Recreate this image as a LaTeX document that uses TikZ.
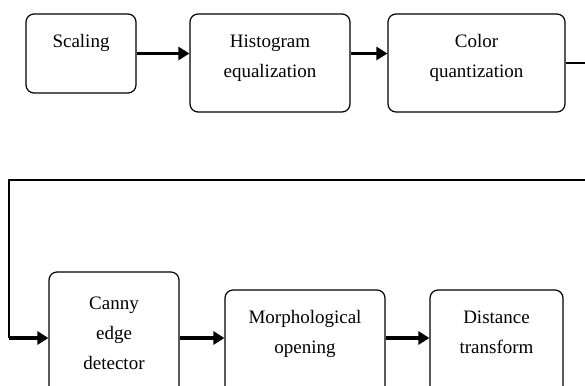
\documentclass[tikz,border=0pt]{standalone}
\usepackage{fontspec}
\setmainfont{Liberation Serif}
\usetikzlibrary{arrows.meta,positioning}

\begin{document}
\begin{tikzpicture}[
  x=1pt, y=1pt,
  stage/.style={draw, rounded corners=8pt, line width=1.2pt, inner sep=0pt},
  caption/.style={inner sep=0pt, align=center, font=\fontsize{19}{30}\selectfont},
  wire/.style={line width=1.2pt},
  flow/.style={line width=3.5pt, -{Triangle[length=11pt,width=13pt]}}
]
  \useasboundingbox (0,0) rectangle (585,-385);

  % top row
  \node[stage, minimum width=110pt, minimum height=79pt] (scaling) at (81,-53.5) {};
  \node[stage, minimum width=160pt, minimum height=98pt] (histeq) at (270,-63) {};
  \node[stage, minimum width=177pt, minimum height=98pt] (colorq) at (476.5,-63) {};

  \node[caption, below=21pt of scaling.north] (scaling-text) {Scaling};
  \node[caption, below=21pt of histeq.north] (histeq-text) {Histogram\\equalization};
  \node[caption, below=21pt of colorq.north] (colorq-text) {Color\\quantization};

  % bottom row, cut off by the lower edge
  \node[stage, minimum width=130pt, minimum height=122pt] (canny) at (114,-333) {};
  \node[stage, minimum width=160pt, minimum height=104pt] (morph) at (305,-342) {};
  \node[stage, minimum width=133pt, minimum height=104pt] (dist) at (496.5,-342) {};

  \node[caption, below=25pt of canny.north] (canny-text) {Canny\\edge\\detector};
  \node[caption, below=21pt of morph.north] (morph-text) {Morphological\\opening};
  \node[caption, below=21pt of dist.north] (dist-text) {Distance\\transform};

  % turning points of the long connector
  \coordinate (turnR) at (600,-180);
  \coordinate (turnL) at (9,-180);
  \coordinate (rowB) at (0,-338);

  \draw[flow] (scaling.east) -- (scaling.east -| histeq.west);
  \draw[flow] (scaling.east -| histeq.east) -- (scaling.east -| colorq.west);
  \draw[wire] (colorq.east) -| (turnR) -- (turnL) -- (turnL |- rowB);
  \draw[flow] (turnL |- rowB) -- (canny.west |- rowB);
  \draw[flow] (canny.east |- rowB) -- (morph.west |- rowB);
  \draw[flow] (morph.east |- rowB) -- (dist.west |- rowB);
\end{tikzpicture}
\end{document}
